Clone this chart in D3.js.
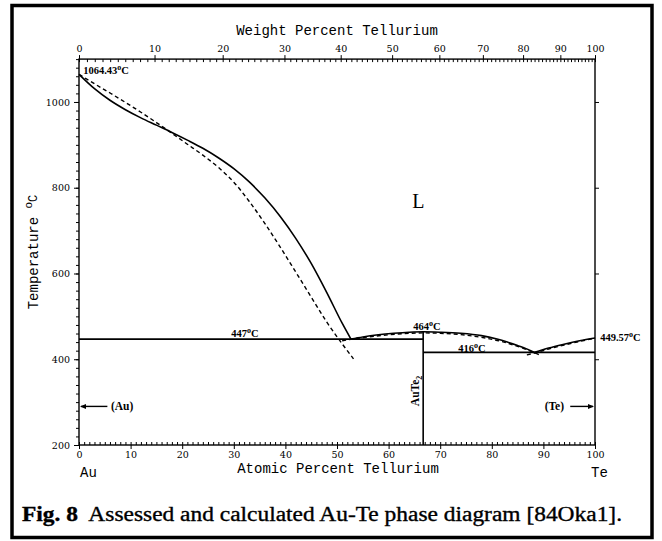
<!DOCTYPE html>
<html><head><meta charset="utf-8">
<script src="https://cdnjs.cloudflare.com/ajax/libs/d3/7.8.5/d3.min.js"></script>
<style>body{margin:0;background:#fff}svg{display:block}</style>
</head><body>
<svg id="c" width="662" height="541"></svg>
<script>
// ---- data (atomic % Te, temperature °C) ----
const assessedAuLiquidus = [[0,1064.43],[3,1031],[6,1004],[9,982],[12,963],[15,946],[18,929],[21,911],[24,892],[27,870],[30,844.5],[33,813.5],[36,776.5],[39,733],[42,682],[45,623.5],[48,556],[51,484],[52.7,447]];
const calcAuLiquidus = [[0,1064.43],[3,1042.5],[6,1021],[9,999],[12,976],[15,952],[18,927],[21,901.5],[24,876],[27,847.5],[30,813],[33,768],[36,717],[39,661.5],[42,603.5],[45,545],[48,487],[51,436],[53.2,401]];
const assessedAuTe2Liquidus = [[52.7,447],[55,452],[58,457],[61,460.5],[64,463],[66.7,464],[70,463],[74,460.5],[78,455],[81,447],[83,440],[85,432],[87,423],[88.3,416]];
const calcAuTe2Liquidus = [[51,443],[53,447],[56,452],[60,457],[64,460.5],[66.7,461.5],[70,460.5],[74,457.5],[78,451],[82,441],[85,430],[87.5,419],[89.5,409]];
const assessedTeLiquidus = [[88.3,416],[91,426],[94,435],[97,443],[100,449.57]];
const calcTeLiquidus = [[86.8,410],[88.5,415],[91,424],[94,433],[97,441.5],[100,449]];
const eutecticAu = {t:447, x0:0, x1:66.7};
const eutecticTe = {t:416, x0:66.7, x1:100};
const compoundAuTe2 = {x:66.7, t0:200, t1:464};
const tempMajorTicks = [200,400,600,800,1000];
const atomicTicks = [0,10,20,30,40,50,60,70,80,90,100];
const weightTicks = [0,10,20,30,40,50,60,70,80,90,100];
const pointLabels = [
  {x:0.8, t:1065, main:"1064.43"},
  {x:29.5, t:451, main:"447"},
  {x:64.8, t:469, main:"464"},
  {x:73.5, t:418, main:"416"},
  {x:101, t:442, main:"449.57"}
];
const M_Au = 196.967, M_Te = 127.60;

// ---- layout ----
const svg = d3.select("#c");
const x = d3.scaleLinear().domain([0,100]).range([79,595]);
const y = d3.scaleLinear().domain([200,1100]).range([445,59.1]);
const atFromWt = w => { const a=w/M_Te, b=(100-w)/M_Au; return 100*a/(a+b); };

// outer frame
svg.append("rect").attr("x",12).attr("y",5.5).attr("width",640).attr("height",532)
  .attr("fill","none").attr("stroke","#000").attr("stroke-width",3.5);

const serif = "'Liberation Serif','Times New Roman',serif";
const tickFont = "'DejaVu Serif',serif";
const mono = "'Liberation Mono','DejaVu Sans Mono',monospace";
const g = svg.append("g");

// left axis
const gl = g.append("g").attr("transform",`translate(${x(0)},0)`)
  .call(d3.axisLeft(y).tickValues(tempMajorTicks).tickSize(5).tickFormat(d3.format("d")));
gl.select(".domain").remove();
gl.selectAll("text").attr("font-family",tickFont).attr("font-size",9.5).attr("dx",-1);
g.append("g").attr("transform",`translate(${x(0)},0)`)
  .call(d3.axisLeft(y).tickValues(d3.range(200,1101,20)).tickSize(3).tickFormat(""))
  .select(".domain").remove();
// right axis
g.append("g").attr("transform",`translate(${x(100)},0)`)
  .call(d3.axisRight(y).tickValues([400,600,800,1000]).tickSize(4).tickFormat(""))
  .select(".domain").remove();
// bottom axis
const gb = g.append("g").attr("transform",`translate(0,${y(200)})`)
  .call(d3.axisBottom(x).tickValues(atomicTicks).tickSize(4).tickPadding(2).tickFormat(d3.format("d")));
gb.select(".domain").remove();
gb.selectAll("text").attr("font-family",tickFont).attr("font-size",9.5);
g.append("g").attr("transform",`translate(0,${y(200)})`)
  .call(d3.axisTop(x).tickValues(d3.range(0,101,1)).tickSize(3).tickFormat(""))
  .select(".domain").remove();
// top axis (weight percent)
const xw = d3.scaleLinear().domain([0,100]).range([x(0),x(100)]);
const gt = g.append("g").attr("transform",`translate(0,${y(1100)})`)
  .call(d3.axisTop(xw).tickValues(weightTicks.map(atFromWt)).tickSize(4).tickPadding(3)
    .tickFormat((d,i)=>weightTicks[i]));
gt.select(".domain").remove();
gt.selectAll("text").attr("font-family",tickFont).attr("font-size",9.5);
g.append("g").attr("transform",`translate(0,${y(1100)})`)
  .call(d3.axisBottom(xw).tickValues(d3.range(0,101,1).map(atFromWt)).tickSize(3).tickFormat(""))
  .select(".domain").remove();
g.selectAll(".tick line").attr("stroke","#000").attr("stroke-width",1);

// plot frame
g.append("rect").attr("x",x(0)).attr("y",y(1100)).attr("width",x(100)-x(0)).attr("height",y(200)-y(1100))
  .attr("fill","none").attr("stroke","#000").attr("stroke-width",1.4);

// lines
const line = d3.line().x(d=>x(d[0])).y(d=>y(d[1])).curve(d3.curveMonotoneX);
const solid = [assessedAuLiquidus, assessedAuTe2Liquidus, assessedTeLiquidus];
const dashed = [calcAuLiquidus, calcAuTe2Liquidus, calcTeLiquidus];
dashed.forEach(s=>g.append("path").attr("d",line(s)).attr("fill","none").attr("stroke","#000")
  .attr("stroke-width",1.4).attr("stroke-dasharray","4,3"));
solid.forEach(s=>g.append("path").attr("d",line(s)).attr("fill","none").attr("stroke","#000")
  .attr("stroke-width",1.6));
[[eutecticAu.x0,eutecticAu.t,eutecticAu.x1,eutecticAu.t],[eutecticTe.x0,eutecticTe.t,eutecticTe.x1,eutecticTe.t],
 [compoundAuTe2.x,compoundAuTe2.t0,compoundAuTe2.x,compoundAuTe2.t1]].forEach(l=>
  g.append("line").attr("x1",x(l[0])).attr("y1",y(l[1])).attr("x2",x(l[2])).attr("y2",y(l[3]))
   .attr("stroke","#000").attr("stroke-width",1.6));

// point labels
pointLabels.forEach(p=>{
  const t = g.append("text").attr("x",x(p.x)).attr("y",y(p.t)).attr("font-family",serif)
    .attr("font-weight","bold").attr("font-size",10.5);
  t.append("tspan").text(p.main);
  t.append("tspan").text("o").attr("font-size",8).attr("dy",-4);
  t.append("tspan").text("C").attr("dy",4);
});

// phase labels
g.append("text").attr("x",x(64.6)).attr("y",y(753)).attr("font-family",serif).attr("font-size",20).text("L");
const au = g.append("g");
au.append("line").attr("x1",x(0)+2).attr("x2",x(5.5)).attr("y1",y(290)).attr("y2",y(290)).attr("stroke","#000").attr("stroke-width",1.4);
au.append("path").attr("d",`M${x(0)+1},${y(290)} l6,-2.5 v5 z`).attr("fill","#000");
au.append("text").attr("x",x(6.2)).attr("y",y(290)+4).attr("font-family",serif).attr("font-weight","bold").attr("font-size",11.5).text("(Au)");
const te = g.append("g");
te.append("text").attr("x",x(94)).attr("y",y(290)+4).attr("font-family",serif).attr("font-weight","bold").attr("font-size",11.5).attr("text-anchor","end").text("(Te)");
te.append("line").attr("x1",x(95.2)).attr("x2",x(100)-2).attr("y1",y(290)).attr("y2",y(290)).attr("stroke","#000").attr("stroke-width",1.4);
te.append("path").attr("d",`M${x(100)-1},${y(290)} l-6,-2.5 v5 z`).attr("fill","#000");
const cmp = g.append("text").attr("transform",`translate(${x(66.7)-4},${y(326)}) rotate(-90)`)
  .attr("font-family",serif).attr("font-weight","bold").attr("font-size",11.5).attr("text-anchor","middle");
cmp.append("tspan").text("AuTe");
cmp.append("tspan").text("2").attr("font-size",8).attr("dy",3);

// axis titles
svg.append("text").attr("x",337).attr("y",35).attr("text-anchor","middle").attr("font-family",mono).attr("font-size",14).text("Weight Percent Tellurium");
svg.append("text").attr("x",338).attr("y",473).attr("text-anchor","middle").attr("font-family",mono).attr("font-size",14).text("Atomic Percent Tellurium");
svg.append("text").attr("x",x(0)+1).attr("y",477).attr("font-family",mono).attr("font-size",14).text("Au");
svg.append("text").attr("x",x(100)-4).attr("y",477).attr("font-family",mono).attr("font-size",14).text("Te");
const yt = svg.append("text").attr("transform","translate(38,252) rotate(-90)").attr("text-anchor","middle")
  .attr("font-family",mono).attr("font-size",14);
yt.append("tspan").text("Temperature ");
yt.append("tspan").text("o").attr("font-size",11).attr("dy",-6);
yt.append("tspan").text("C").attr("font-size",12).attr("dy",5);

// caption
const cap = svg.append("text").attr("x",22).attr("y",521).attr("font-family",serif).attr("font-size",20)
  .attr("stroke","#000").attr("stroke-width",0.35)
  .attr("textLength",600).attr("lengthAdjust","spacingAndGlyphs");
cap.append("tspan").attr("font-weight","bold").text("Fig. 8");
cap.append("tspan").text("\u00a0 Assessed and calculated Au-Te phase diagram [84Oka1].");
</script>
</body></html>
